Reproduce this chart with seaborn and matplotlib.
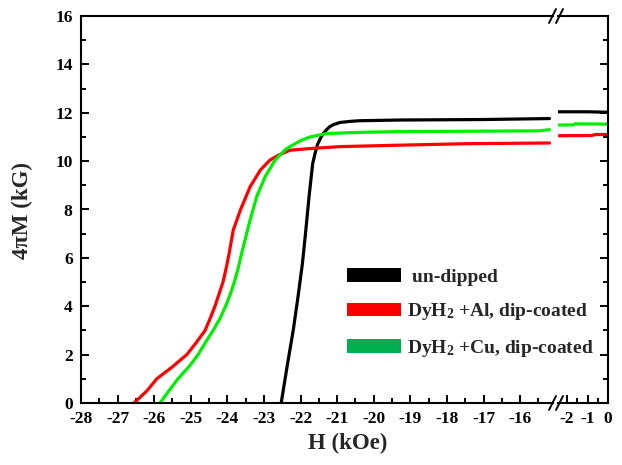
import matplotlib
matplotlib.use("Agg")
import matplotlib.pyplot as plt
from matplotlib.patches import Patch
from matplotlib.lines import Line2D
from matplotlib.ticker import MultipleLocator
import seaborn as sns
import pandas as pd

# ---------------- data ----------------
series_names = ["un-dipped", "DyH$_2$ +Al, dip-coated", "DyH$_2$ +Cu, dip-coated"]
line_colors = ["#000000", "#ff0000", "#00ee00"]
legend_colors = ["#000000", "#ff0000", "#00b050"]

black_H = [-22.53, -22.37, -22.2, -22.07, -21.95, -21.86, -21.77, -21.67, -21.6,
           -21.54, -21.45, -21.38, -21.29, -21.2, -21.1, -20.92, -20.6, -20.38,
           -19.28, -17.0, -15.2]
black_M = [0.0, 1.5, 3.02, 4.4, 5.77, 7.1, 8.52, 9.9, 10.35,
           10.68, 10.97, 11.14, 11.3, 11.43, 11.51, 11.6, 11.65, 11.67,
           11.7, 11.72, 11.76]

red_H = [-26.55, -26.2, -25.93, -25.5, -25.11, -24.85, -24.61, -24.47, -24.34,
         -24.23, -24.12, -24.03, -23.95, -23.84, -23.64, -23.5, -23.38, -23.1,
         -22.84, -22.6, -22.29, -21.74, -20.92, -19.28, -17.5, -15.2]
red_M = [0.0, 0.5, 1.0, 1.5, 2.0, 2.5, 3.0, 3.5, 4.0,
         4.5, 5.0, 5.6, 6.2, 7.15, 8.0, 8.5, 8.94, 9.63,
         10.04, 10.25, 10.45, 10.52, 10.6, 10.66, 10.72, 10.75]

green_H = [-25.84, -25.6, -25.35, -25.05, -24.8, -24.6, -24.39, -24.2, -24.05,
           -23.92, -23.81, -23.7, -23.61, -23.38, -23.2, -22.97, -22.7, -22.4,
           -22.0, -21.74, -21.29, -20.38, -19.28, -17.0, -15.5, -15.2]
green_M = [0.0, 0.5, 1.0, 1.5, 2.0, 2.5, 3.0, 3.5, 4.0,
           4.5, 5.0, 5.6, 6.2, 7.56, 8.53, 9.35, 10.04, 10.5,
           10.85, 11.0, 11.14, 11.19, 11.22, 11.24, 11.25, 11.3]

# right (after break) segment
black_H2 = [-2.4, -1.0, 0.0]
black_M2 = [12.04, 12.04, 12.02]
red_H2 = [-2.4, -0.8, -0.6, 0.0]
red_M2 = [11.05, 11.06, 11.1, 11.1]
green_H2 = [-2.4, -1.7, -1.6, 0.0]
green_M2 = [11.49, 11.5, 11.54, 11.53]

x_ticks_left = list(range(-28, -15))
x_ticks_right = [-2, -1, 0]
y_ticks = list(range(0, 17, 2))

# ---------------- style ----------------
sns.set_style("white")
plt.rcParams["font.family"] = ["Liberation Serif", "DejaVu Serif"]
plt.rcParams["font.weight"] = "bold"
plt.rcParams["axes.unicode_minus"] = False
plt.rcParams["mathtext.fontset"] = "custom"
plt.rcParams["mathtext.rm"] = "Liberation Serif:bold"
plt.rcParams["mathtext.it"] = "Liberation Serif:bold"
plt.rcParams["mathtext.bf"] = "Liberation Serif:bold"

W, H = 622, 465
fig = plt.figure(figsize=(W / 100, H / 100), dpi=100)

def fx(px):
    return px / W

def fy(py):
    return 1 - py / H

x0, xb1, xb2, x1 = 81, 553, 558, 608
ytop, ybot = 16, 403
axL = fig.add_axes([fx(x0), fy(ybot), fx(xb1) - fx(x0), fy(ytop) - fy(ybot)])
axR = fig.add_axes([fx(xb2), fy(ybot), fx(x1) - fx(xb2), fy(ytop) - fy(ybot)])

def build(hs, ms):
    rows = []
    for name, h, m in zip(series_names, hs, ms):
        for a, b in zip(h, m):
            rows.append({"H": a, "M": b, "series": name})
    return pd.DataFrame(rows)

dfL = build([black_H, red_H, green_H], [black_M, red_M, green_M])
dfR = build([black_H2, red_H2, green_H2], [black_M2, red_M2, green_M2])
pal = dict(zip(series_names, line_colors))

for ax, df in ((axL, dfL), (axR, dfR)):
    sns.lineplot(data=df, x="H", y="M", hue="series", palette=pal, ax=ax,
                 linewidth=2.3, legend=False, sort=True, estimator=None)
    ax.set_ylim(0, 16)
    ax.set_xlabel("")
    ax.set_ylabel("")
    for s in ax.spines.values():
        s.set_linewidth(1.5)
        s.set_color("black")
    ax.yaxis.set_minor_locator(MultipleLocator(1))
    ax.xaxis.set_minor_locator(MultipleLocator(0.5))
    ax.tick_params(which="both", direction="in", width=1.4, colors="black",
                   labelsize=12.5)
    ax.tick_params(which="major", length=6, pad=6)
    ax.tick_params(which="minor", length=3.5)

axL.set_xlim(-28, -28 + (xb1 - x0) / 36.6)
axR.set_xlim(-2 - (567 - xb2) / 20.5, 0)
axL.set_xticks(x_ticks_left)
axR.set_xticks(x_ticks_right)
axL.set_yticks(y_ticks)
axR.set_yticks(y_ticks)
axL.spines["right"].set_visible(False)
axR.spines["left"].set_visible(False)
axL.tick_params(which="both", left=True, right=False, bottom=True, top=False)
axR.tick_params(which="both", left=False, right=True, labelleft=False,
                labelright=False, bottom=True, top=False)

for lab in axL.get_xticklabels() + axL.get_yticklabels() + axR.get_xticklabels():
    lab.set_fontweight("bold")

# axis labels
fig.text(fx(348), fy(443), "H (kOe)", ha="center", va="center",
         fontsize=16.5, fontweight="bold")
fig.text(fx(22), fy(210), "4πM (kG)", ha="center", va="center",
         rotation=90, fontsize=16.5, fontweight="bold")

# break marks
for ycen in (ytop, ybot):
    for xc in (552.5, 559.5):
        fig.add_artist(Line2D([fx(xc - 3.5), fx(xc + 3.5)],
                              [fy(ycen + 7), fy(ycen - 7)],
                              transform=fig.transFigure, color="black",
                              linewidth=1.4))

# legend
handles = [Patch(facecolor=c, edgecolor="none") for c in legend_colors]
labels = [" " + series_names[0], series_names[1], series_names[2]]
fig.legend(handles, labels, loc="upper left",
           bbox_to_anchor=(fx(347), fy(268)), bbox_transform=fig.transFigure,
           frameon=False, handlelength=2.8, handleheight=0.7,
           handletextpad=0.3, labelspacing=0.8, borderpad=0, borderaxespad=0,
           prop={"weight": "bold", "size": 14})

fig.savefig("out.png", dpi=100)
